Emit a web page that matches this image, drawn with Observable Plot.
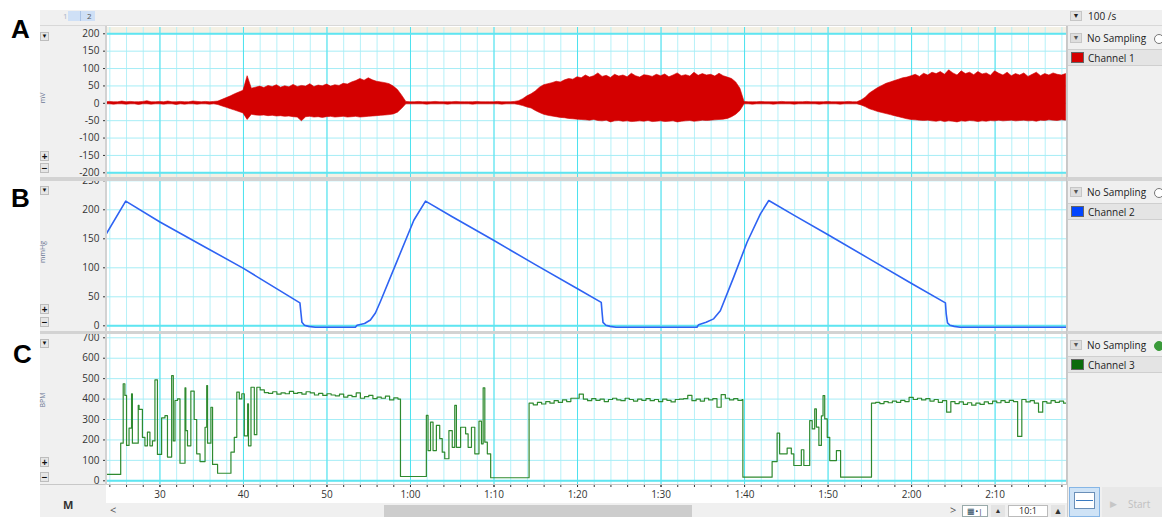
<!DOCTYPE html>
<html><head><meta charset="utf-8">
<script src="https://cdn.jsdelivr.net/npm/d3@7"></script>
<script src="https://cdn.jsdelivr.net/npm/@observablehq/plot@0.6"></script>
<style>
body{margin:0;background:#fff;font-family:"Open Sans","Noto Sans",sans-serif;}
#root{position:relative;width:1162px;height:517px;overflow:hidden;background:#fff;}
</style></head><body><div id="root"></div>
<script>
// ---------------- DATA ----------------
const xDomain = [23.6, 138.55];
const xMajorTicks = [30, 40, 50, 60, 70, 80, 90, 100, 110, 120, 130];
const xTickLabels = ["30", "40", "50", "1:00", "1:10", "1:20", "1:30", "1:40", "1:50", "2:00", "2:10"];
const xMinorTicks = d3.range(24, 139, 2);
const yTicksA = [-200, -150, -100, -50, 0, 50, 100, 150, 200];
const yTicksB = [0, 50, 100, 150, 200, 250];
const yTicksC = [0, 100, 200, 300, 400, 500, 600, 700];
const yDomainA = [-213.5, 218.1];
const yDomainB = [-9.8, 250.5];
const yDomainC = [-18.1, 716.1];
const panelLetters = ["A", "B", "C"];
const channelNames = ["Channel 1", "Channel 2", "Channel 3"];
const channelUnits = ["mV", "mmHg", "BPM"];
const channelColors = ["#d40000", "#0044ff", "#0b6b0b"];
const sampleRateLabel = "100 /s";

// Channel 1 (mV): envelope of the signal, one reading every 0.5 s from 23.5 s
const emgStart = 23.5, emgStep = 0.5;
const emgHi = [
  3,4,3,3,5,3,4,3,3,4,6,3,3,4,3,5,3,3,4,3,3,5,4,3,4,3,4,
  5,10,15,20,26,31,36,78,42,45,48,44,50,47,52,45,49,46,53,47,50,48,55,47,51,49,54,48,52,50,56,54,60,64,70,65,72,66,62,60,58,55,48,38,22,4,
  3,3,4,3,3,3,4,3,3,3,3,4,3,3,3,3,4,3,3,3,3,4,3,3,3,4,
  6,12,20,26,34,45,52,55,58,62,60,66,70,68,75,72,80,74,78,86,76,79,73,82,77,80,75,85,78,74,81,79,76,82,78,83,75,80,86,78,81,77,88,79,84,80,82,77,85,78,74,70,60,42,4,
  3,3,3,4,3,3,3,3,4,3,3,3,3,3,4,3,3,3,3,4,3,3,3,3,4,3,3,
  8,16,28,36,44,50,56,60,64,68,72,74,78,82,76,85,80,88,84,90,82,95,86,80,92,84,88,81,90,83,86,79,92,85,80,88,78,84,80,86,76,82,88,78,84,80,86,82,80,84
];
const emgLo = [
  -3,-3,-4,-3,-3,-4,-3,-3,-5,-3,-3,-4,-3,-3,-4,-3,-3,-5,-3,-4,-3,-3,-4,-3,-3,-4,-3,
  -5,-9,-13,-17,-21,-25,-29,-48,-33,-35,-36,-35,-37,-36,-38,-37,-39,-38,-40,-41,-52,-40,-39,-41,-40,-42,-40,-39,-41,-40,-39,-41,-40,-39,-41,-40,-39,-38,-37,-36,-35,-34,-32,-27,-16,-3,
  -3,-3,-3,-3,-4,-3,-3,-3,-3,-4,-3,-3,-3,-3,-3,-4,-3,-3,-3,-3,-3,-3,-4,-3,-3,-3,
  -5,-8,-12,-15,-22,-28,-33,-36,-38,-40,-42,-43,-45,-46,-47,-48,-49,-50,-48,-51,-52,-50,-55,-52,-51,-53,-52,-54,-53,-52,-53,-51,-54,-53,-52,-54,-53,-52,-55,-53,-52,-51,-53,-52,-50,-51,-50,-49,-48,-47,-45,-40,-33,-22,-3,
  -3,-4,-3,-3,-3,-3,-4,-3,-3,-3,-3,-4,-3,-3,-3,-3,-3,-4,-3,-3,-3,-3,-4,-3,-3,-3,-3,
  -6,-11,-17,-21,-25,-28,-31,-34,-37,-40,-43,-46,-48,-49,-50,-51,-50,-52,-53,-51,-54,-52,-53,-55,-52,-53,-51,-52,-54,-52,-53,-51,-52,-50,-52,-51,-50,-52,-51,-50,-52,-51,-53,-50,-51,-49,-50,-51,-49,-50
];

// Channel 2 (mmHg)
const pressureT = [23.6,25.9,30,35,40,46.76,46.9,47.0,47.3,47.8,48.6,53.4,53.6,54.5,55.2,55.8,56.4,58.4,60.4,61.8,65,70,75,80,82.84,82.96,83.05,83.4,83.9,84.6,94.3,94.5,95.4,96.3,97.1,98.7,100.3,101.9,102.9,106,110,115,120,124.05,124.15,124.3,124.6,125.1,125.8,138.55];
const pressureV = [159,215,179,139,99,39.6,20,6,1,-1,-2.5,-2.5,1,4,10,22,42,112,182,215,188,147,105,64,40.5,20,6,1,-1,-2.5,-2.5,2,6,12,26,84,144,193,216,190,157,115,73,39.6,20,5,1,-1,-2.5,-2.5];

// Channel 3 (BPM): irregular step segments
const hrSeg1T = [23.6,25.3,25.6,25.8,26.0,26.3,26.6,26.7,27.4,27.5,27.9,28.2,28.5,28.8,29.1,29.4,29.7,30.2,30.6,30.9,31.4,31.6,31.8,32.1,32.4,33.0,33.1,33.3,33.7,34.1,34.4,34.8,35.4,35.6,35.7,36.1,36.3,36.9,38.5,38.9,39.2,39.5,39.8,40.1,40.5,40.6,40.9,41.3,41.6];
const hrSeg1V = [31,184,475,418,173,258,426,184,369,350,213,171,238,171,195,494,129,308,319,116,515,195,393,401,86,455,246,171,439,300,132,94,262,466,184,360,80,37,140,213,434,401,426,220,377,171,458,226,458];
const hrSeg2T = [58.8,61.9,62.1,62.4,62.7,63.1,63.5,63.8,64.1,64.6,65.0,65.3,65.5,66.0,66.6,66.9,67.3,67.7,68.2,68.5,68.7,68.9,69.2,69.6];
const hrSeg2V = [21,320,148,287,148,271,206,140,108,246,164,369,164,262,230,164,262,132,292,181,455,189,132,15];
const hrSeg3T = [99.8,103.3,103.9,104.2,105.1,105.6,105.9,106.8,107.1,107.8,108.1,108.4,108.6,108.9,109.2,109.4,109.6,109.9,110.2,111.0,111.5];
const hrSeg3V = [18,94,233,132,160,132,75,152,75,295,254,352,263,173,318,417,303,213,99,148,18];
// Channel 3 plateaus: one reading every 0.5 s from each start
const hrPlateauStarts = [42.0, 74.2, 115.2], hrPlateauStep = 0.5;
const hrPlateau1 = [445,432,428,436,424,430,426,438,428,432,424,436,430,420,428,418,426,420,416,424,410,418,412,430,404,412,418,402,410,404,414,396,406,400];
const hrPlateau2 = [380,372,384,376,388,380,392,384,396,388,404,404,424,400,392,402,394,400,388,398,404,396,392,404,398,390,400,394,402,392,398,388,400,394,386,398,400,402,418,392,400,390,404,396,402,360,422,404,396,402,394,398];
const hrPlateau3 = [380,384,378,388,382,390,384,394,388,408,398,404,396,402,390,398,384,392,336,388,378,386,374,382,370,380,374,386,378,390,382,392,384,394,388,217,398,386,392,380,336,388,380,392,384,390,380,386];

// ---------------- BUILD ----------------
const emg = emgHi.map((hi, i) => ({t: emgStart + i * emgStep, hi, lo: emgLo[i] ?? -3}));
const pressure = pressureT.map((t, i) => ({t, v: pressureV[i]}));
const seg = (T, V) => T.map((t, i) => ({t, v: V[i]}));
const plat = (start, V) => V.map((v, i) => ({t: start + i * hrPlateauStep, v}));
const hr = [
  ...seg(hrSeg1T, hrSeg1V), ...plat(hrPlateauStarts[0], hrPlateau1),
  ...seg(hrSeg2T, hrSeg2V), ...plat(hrPlateauStarts[1], hrPlateau2),
  ...seg(hrSeg3T, hrSeg3V), ...plat(hrPlateauStarts[2], hrPlateau3)
];

const root = document.getElementById("root");
function box(x, y, w, h, css = "", text = "") {
  const d = document.createElement("div");
  d.style.cssText = `position:absolute;left:${x}px;top:${y}px;width:${w}px;height:${h}px;box-sizing:border-box;${css}`;
  if (text) d.textContent = text;
  root.appendChild(d);
  return d;
}
function label(x, y, text, css = "") {
  const d = document.createElement("div");
  d.style.cssText = `position:absolute;left:${x}px;top:${y - 7}px;height:14px;line-height:14px;white-space:nowrap;${css}`;
  d.textContent = text;
  root.appendChild(d);
  return d;
}

// background chrome
box(40, 10, 1122, 16, "background:#f0f0f0;border-bottom:1px solid #d8d8d8");
box(68, 11, 27, 10, "background:#cfe0f6");
box(80, 11, 1, 10, "background:#a9c3e6");
label(63, 16, "1", "font-size:8px;color:#a9b5c9");
label(87, 16, "2", "font-size:8px;color:#555");
box(1070, 11, 12, 10, "background:#e2e2e2;border:1px solid #c6c6c6;font-size:7px;line-height:8px;text-align:center;color:#222", "▼");
label(1088, 16, sampleRateLabel, "font-size:10px;color:#222");

box(40, 26, 66, 491, "background:#f0f0f0");
box(106, 26, 961, 459, "background:#fff");
box(106, 485, 961, 18, "background:#fff");
box(106, 503, 961, 14, "background:#f0f0f0");
box(1067, 26, 95, 491, "background:#f0f0f0;border-left:1px solid #cacaca");

// ---------------- PANELS ----------------
const font = "'Open Sans','Noto Sans',sans-serif";
function panel({top, height, marginTop, marginBottom, yDomain, yTicks, edges, marks, bottomAxis, clipTop = null}) {
  const svg = Plot.plot({
    width: 1027, height, marginLeft: 66, marginRight: 1, marginTop, marginBottom,
    x: {domain: xDomain, axis: null, label: null},
    y: {domain: yDomain, label: null},
    style: {background: "transparent", fontFamily: font, fontSize: "10px", color: "#333", overflow: "visible"},
    marks: [
      ...(marks.before || []),
      Plot.ruleX(xMinorTicks, {stroke: "#b6f1f8", strokeWidth: 1}),
      Plot.ruleY(yTicks, {stroke: "#a6edf6", strokeWidth: 1}),
      Plot.ruleX(xMajorTicks, {stroke: "#4de2ef", strokeWidth: 1}),
      Plot.ruleY(edges, {stroke: "#5fe5f1", strokeWidth: 2}),
      ...marks.data,
      Plot.axisY(yTicks, {tickSize: 3, tickPadding: 4, label: null, tickFormat: d => String(d)}),
      ...(bottomAxis ? [
        Plot.axisX(xMinorTicks, {anchor: "bottom", tickSize: 3, label: null, tickFormat: () => ""}),
        Plot.axisX(xMajorTicks, {anchor: "bottom", tickSize: 3, tickPadding: 3, label: null,
          tickFormat: d => xTickLabels[xMajorTicks.indexOf(d)]})
      ] : [])
    ]
  });
  const w = document.createElement("div");
  if (clipTop === null) {
    w.style.cssText = `position:absolute;left:40px;top:${top}px;width:1027px;height:${height}px;`;
  } else {
    w.style.cssText = `position:absolute;left:40px;top:${top + clipTop}px;width:1027px;height:${height - clipTop}px;overflow:hidden;`;
    svg.style.marginTop = `${-clipTop}px`;
  }
  w.appendChild(svg);
  root.appendChild(w);
}

panel({
  top: 26, height: 151, marginTop: 1, marginBottom: 0, yDomain: yDomainA, yTicks: yTicksA, edges: [yTicksA[0], yTicksA[yTicksA.length - 1]],
  marks: {
    before: [Plot.rect([{a: yTicksA[yTicksA.length - 1], b: yDomainA[1]}, {a: yDomainA[0], b: yTicksA[0]}],
      {x1: xDomain[0], x2: xDomain[1], y1: "a", y2: "b", fill: "#f4f1e5"})],
    data: [Plot.areaY(emg, {x: "t", y1: "lo", y2: "hi", fill: channelColors[0], stroke: channelColors[0], strokeWidth: 0.6, clip: true})]
  }
});
panel({
  top: 180, height: 151, marginTop: 0, marginBottom: 0, yDomain: yDomainB, yTicks: yTicksB, edges: [yTicksB[0]], clipTop: 1,
  marks: {data: [Plot.line(pressure, {x: "t", y: "v", stroke: "#2e63f3", strokeWidth: 1.6, clip: true})]}
});
panel({
  top: 334, height: 171, marginTop: 0, marginBottom: 21, yDomain: yDomainC, yTicks: yTicksC, edges: [yTicksC[0]], bottomAxis: true,
  marks: {data: [Plot.line(hr, {x: "t", y: "v", curve: "step-after", stroke: "#2f8a2f", strokeWidth: 1.2, clip: true})]}
});

// ---------------- OVERLAY CHROME ----------------
box(40, 177, 1122, 4, "background:#d3d3d3");
box(40, 331, 1122, 3, "background:#d3d3d3");
box(40, 484, 1027, 1, "background:#c8c8c8");
box(105, 26, 2, 459, "background:#d2d2d2");
box(1066, 26, 1, 459, "background:#c8c8c8");

// panel letters, units, side buttons
const panelTops = [27, 181, 334];
const letterTops = [16, 185, 341];
const letterLefts = [11, 11, 13];
const unitCenters = [98, 252, 400];
const btnY = [[32, 151, 163], [186, 304, 317], [339, 457, 472]];
panelLetters.forEach((L, i) => {
  box(letterLefts[i], letterTops[i], 30, 26, "font-family:'Liberation Sans',Arial,sans-serif;font-weight:bold;font-size:26px;line-height:26px;color:#000", L);
  box(23, unitCenters[i] - 5, 40, 10, "font-size:7px;line-height:10px;text-align:center;color:#6b7794;transform:rotate(-90deg)", channelUnits[i]);
  const [a, p, m] = btnY[i];
  box(40, a, 9, 9, "background:#e6e6e6;border:1px solid #bdbdbd;font-size:6px;line-height:7px;text-align:center;color:#111", "▼");
  box(40, p, 9, 10, "background:#e6e6e6;border:1px solid #bdbdbd;font-size:10px;line-height:8px;text-align:center;font-weight:bold;color:#111", "+");
  box(40, m, 9, 10, "background:#e6e6e6;border:1px solid #bdbdbd;font-size:10px;line-height:8px;text-align:center;font-weight:bold;color:#111", "−");

  // right side controls
  const pt = panelTops[i];
  box(1070, pt + 6, 12, 10, "background:#dedede;border:1px solid #c6c6c6;font-size:7px;line-height:8px;text-align:center;color:#555", "▼");
  label(1087, pt + 11, "No Sampling", "font-size:10px;color:#222");
  box(1154, pt + 7, 10, 10, `border-radius:50%;background:${i === 2 ? "#3a9a3a" : "#fff"};border:1.5px solid ${i === 2 ? "#3a9a3a" : "#777"}`);
  box(1068, pt + 22, 94, 17, "background:#e4e4e4;border-top:1px solid #cfcfcf;border-bottom:1px solid #cfcfcf");
  box(1071, pt + 25, 13, 11, `background:${channelColors[i]};border:1px solid #666`);
  label(1088, pt + 31, channelNames[i], "font-size:10px;color:#222");
});

// bottom left icon
box(40, 485, 66, 32, "background:#f0f0f0");
label(63, 505, "M", "font-size:11px;font-weight:bold;color:#333");

// scroll row
label(110, 510, "<", "font-size:11px;color:#555");
box(384, 505, 308, 12, "background:#cdcdcd");
label(950, 510, ">", "font-size:11px;color:#555");
box(962, 505, 26, 12, "background:#fff;border:1px solid #9aa;font-size:8px;line-height:10px;text-align:center;color:#245", "▦•|");
box(991, 505, 14, 12, "background:#e4e4e4;font-size:7px;line-height:12px;text-align:center;color:#333", "▲");
box(1008, 505, 40, 12, "background:#fff;border:1px solid #bbb;font-size:9px;line-height:10px;text-align:center;color:#222", "10:1");
box(1051, 505, 14, 12, "background:#e4e4e4;font-size:9px;line-height:12px;text-align:center;color:#333", "▲");

// bottom right
box(1069, 487, 31, 30, "background:#cfe3f6;border:1px solid #86b6e6");
box(1074, 492, 21, 17, "background:#fff;border:1px solid #6a8fb8");
box(1076, 500, 17, 1, "background:#3a7ac0");
box(1102, 487, 60, 30, "background:#e8e8e8");
label(1110, 504, "▶", "font-size:9px;color:#c6c6c6");
label(1128, 504, "Start", "font-size:10px;color:#c0c0c0");
</script></body></html>
